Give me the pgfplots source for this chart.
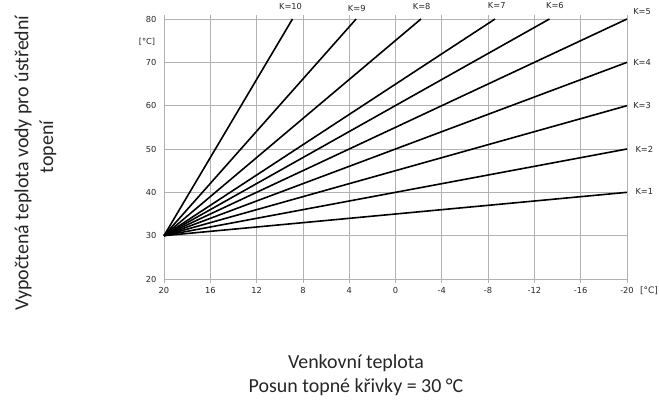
\documentclass[border=0pt]{standalone}
\usepackage{pgfplots}
\pgfplotsset{compat=1.18}
\usepackage{fontspec}
\setmainfont{Carlito}
\newfontfamily\dejavu{DejaVu Sans}
\pgfplotsset{kline/.style={draw=black, solid, line width=1.6bp, mark=none}}
\begin{document}
\begin{tikzpicture}[x=1bp,y=1bp]
\useasboundingbox (0,0) rectangle (659,399);
\begin{axis}[
  at={(164bp,120bp)}, anchor=south west,
  scale only axis, width=463bp, height=260bp,
  xmin=-20, xmax=20, x dir=reverse, ymin=20, ymax=80,
  xtick={20,16,12,8,4,0,-4,-8,-12,-16,-20},
  xticklabels={20,16,12,8,4,0,-4,-8,-12,-16,-20},
  ytick={20,30,40,50,60,70,80},
  yticklabels={20,30,40,50,60,70,80},
  grid=major, major grid style={black!30, line width=0.8bp},
  axis line style={black!30, line width=0.8bp},
  tick align=outside, major tick length=4bp,
  xtick style={black!30, line width=0.8bp},
  ytick style={draw=none},
  ticklabel style={font=\dejavu\fontsize{8.3}{9}\selectfont, text=black!85},
  xticklabel style={yshift=-1bp},
  clip=false,
]
% K=1 .. K=10
\addplot[kline] coordinates {(20,30) (-20,40)};
\addplot[kline] coordinates {(20,30) (-20,50)};
\addplot[kline] coordinates {(20,30) (-20,60)};
\addplot[kline] coordinates {(20,30) (-20,70)};
\addplot[kline] coordinates {(20,30) (-20,80)};
\addplot[kline] coordinates {(20,30) (-13.3,80)};
\addplot[kline] coordinates {(20,30) (-8.6,80)};
\addplot[kline] coordinates {(20,30) (-2.2,80)};
\addplot[kline] coordinates {(20,30) (3.4,80)};
\addplot[kline] coordinates {(20,30) (8.9,80)};
\begin{scope}[every node/.style={font=\dejavu\fontsize{8.3}{9}\selectfont, text=black!85}]
\node at (axis cs:9.07,82.8) {K=10};
\node at (axis cs:3.35,82.5) {K=9};
\node at (axis cs:-2.26,82.8) {K=8};
\node at (axis cs:-8.75,83.2) {K=7};
\node at (axis cs:-13.77,83.2) {K=6};
\node at (axis cs:-21.3,81.8) {K=5};
\node at (axis cs:-21.3,70) {K=4};
\node at (axis cs:-21.3,60) {K=3};
\node at (axis cs:-21.5,50) {K=2};
\node at (axis cs:-21.5,40.1) {K=1};
\node at (axis cs:21.47,74.7) {[°C]};
\node[font=\dejavu\fontsize{9}{10}\selectfont] at (axis cs:-21.9,17.3) {[°C]};
\end{scope}
\end{axis}
\node[align=center, font=\fontsize{20}{24}\selectfont, text=black!85] at (356,24) {Venkovní teplota\\Posun topné křivky = 30 °C};
\node[rotate=90, font=\fontsize{20}{24}\selectfont, text=black!85] at (23,236) {Vypočtená teplota vody pro ústřední};
\node[rotate=90, font=\fontsize{20}{24}\selectfont, text=black!85] at (48,252) {topení};
\end{tikzpicture}
\end{document}
